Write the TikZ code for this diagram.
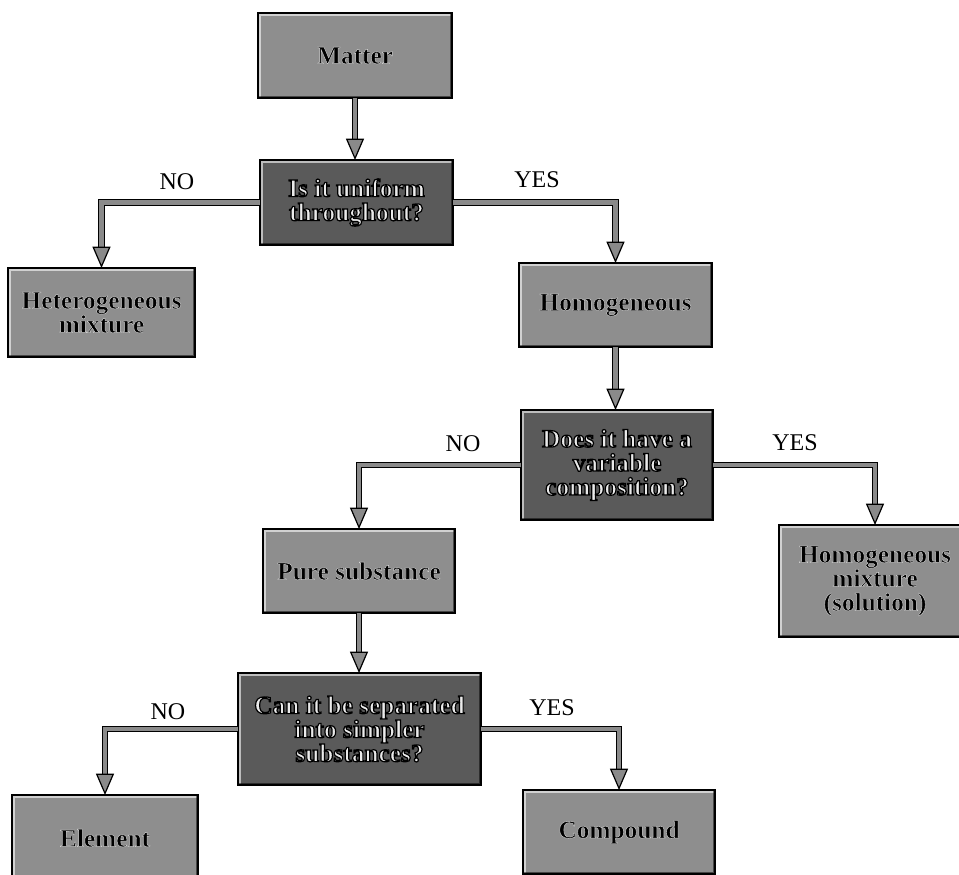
\documentclass[tikz,border=0pt]{standalone}
\usepackage{fontspec}
\setmainfont{Liberation Serif}
\usetikzlibrary{arrows.meta}
\definecolor{plainfill}{HTML}{8E8E8E}
\definecolor{qfill}{HTML}{5A5A5A}
\definecolor{connfill}{HTML}{8A8A8A}
% outlined text: one copy, filled and stroked
\newcommand{\lt}[1]{{\color{black}\special{pdf:literal direct 0.85 G 0.3 w 2 Tr}#1\special{pdf:literal direct 0 Tr}}}
\newcommand{\dk}[1]{{\color{white!92!black}\special{pdf:literal direct 0 G 0.9 w 2 Tr}#1\special{pdf:literal direct 0 Tr}}}
\tikzset{
  base/.style={rectangle, draw=black, line width=0.8pt, inner sep=0pt, outer sep=0pt,
    align=center, font=\fontsize{19}{18}\selectfont\bfseries,
    path picture={
      \draw[white, opacity=0.6, line width=5pt]
        (path picture bounding box.south west) -- (path picture bounding box.north west)
        -- (path picture bounding box.north east);
      \draw[black, opacity=0.5, line width=3pt]
        (path picture bounding box.north east) -- (path picture bounding box.south east)
        -- (path picture bounding box.south west);}},
  plainbox/.style={base, fill=plainfill, text=black},
  qbox/.style={base, fill=qfill},
  conn/.style={draw=black, line width=0.9pt, double=connfill, double distance=3.4pt,
    -{Triangle[length=16pt, width=13.5pt, color=black, fill=connfill, line width=0.9pt]}},
  ans/.style={font=\fontsize{18}{18}\selectfont, inner sep=0pt}
}
\begin{document}
\begin{tikzpicture}[x=0.75pt, y=-0.75pt]
\useasboundingbox (0,0) rectangle (959,874);
% boxes
\node[plainbox, minimum width=145.5pt, minimum height=63.75pt] (matter) at (355,55.5) {\lt{Matter}};
\node[qbox, minimum width=144.75pt, minimum height=63.75pt] (q1) at (356.5,202.5) {\dk{Is it uniform}\\\dk{throughout?}};
\node[plainbox, minimum width=140.25pt, minimum height=66.75pt] (het) at (101.5,312.5) {\lt{Heterogeneous}\\\lt{mixture}};
\node[plainbox, minimum width=144.75pt, minimum height=63pt] (hom) at (615.5,305) {\lt{Homogeneous}};
\node[qbox, minimum width=144pt, minimum height=82.5pt] (q2) at (617,465) {\dk{Does it have a}\\\dk{variable}\\\dk{composition?}};
\node[plainbox, minimum width=144pt, minimum height=84pt] (hm) at (875,581) {\lt{Homogeneous}\\\lt{mixture}\\\lt{(solution)}};
\node[plainbox, minimum width=144pt, minimum height=63pt] (pure) at (359,571) {\lt{Pure substance}};
\node[qbox, minimum width=182.25pt, minimum height=84pt] (q3) at (359.5,729) {\dk{Can it be separated}\\\dk{into simpler}\\\dk{substances?}};
\node[plainbox, minimum width=139.5pt, minimum height=64.5pt] (elem) at (105,838) {\lt{Element}};
\node[plainbox, minimum width=144pt, minimum height=63pt] (comp) at (619,832) {\lt{Compound}};
% connectors
\draw[conn] (matter.south) -- (matter.south |- q1.north);
\draw[conn] (q1.west) -| (het.north);
\draw[conn] (q1.east) -| (hom.north);
\draw[conn] (hom.south) -- (hom.south |- q2.north);
\draw[conn] (q2.west) -| (pure.north);
\draw[conn] (q2.east) -| (hm.north);
\draw[conn] (pure.south) -- (pure.south |- q3.north);
\draw[conn] (q3.west) -| (elem.north);
\draw[conn] (q3.east) -| (comp.north);
% labels
\node[ans] (no1) at (177,182) {NO};
\node[ans] (yes1) at (537,180) {YES};
\node[ans] (no2) at (463,444) {NO};
\node[ans] (yes2) at (795,443) {YES};
\node[ans] (no3) at (168,712) {NO};
\node[ans] (yes3) at (552,708) {YES};
\end{tikzpicture}
\end{document}
